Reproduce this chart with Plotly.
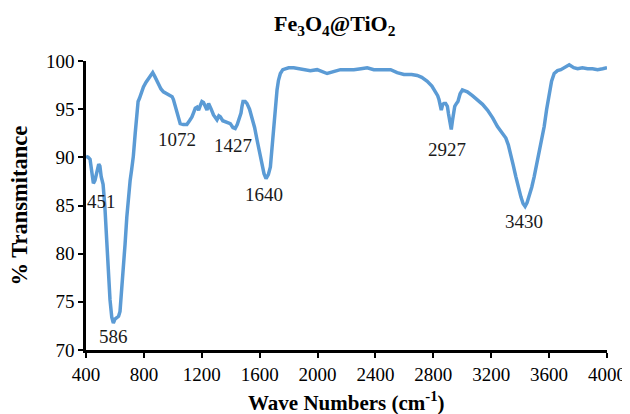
import plotly.graph_objects as go

wavenumber = [400, 415, 428, 440, 451, 462, 475, 488, 496, 505, 518, 530, 543, 555, 566, 578, 589, 600, 612, 625,
              635, 646, 658, 670, 682, 694, 705, 716, 727, 740, 751, 760, 769, 780, 797, 815, 831, 848, 861, 875,
              890, 901, 918, 935, 958, 981, 995, 1004, 1015, 1027, 1040, 1051, 1072, 1097, 1115, 1132, 1145, 1155,
              1167, 1178, 1190, 1201, 1212, 1224, 1236, 1247, 1254, 1265, 1281, 1295, 1305, 1318, 1328, 1345, 1362,
              1380, 1397, 1415, 1431, 1445, 1455, 1465, 1471, 1478, 1485, 1500, 1512, 1530, 1547, 1565, 1582, 1600,
              1616, 1630, 1644, 1660, 1674, 1685, 1697, 1708, 1720, 1730, 1743, 1760, 1778, 1800, 1835, 1870, 1905,
              1950, 1997, 2030, 2066, 2110, 2158, 2200, 2251, 2300, 2343, 2389, 2450, 2505, 2550, 2597, 2650, 2689,
              2720, 2758, 2790, 2816, 2830, 2839, 2848, 2855, 2865, 2874, 2885, 2897, 2905, 2915, 2924, 2932, 2940,
              2948, 2960, 2970, 2985, 3001, 3018, 3035, 3070, 3104, 3140, 3174, 3210, 3243, 3270, 3301, 3318, 3335,
              3352, 3370, 3388, 3405, 3420, 3434, 3448, 3462, 3480, 3497, 3514, 3531, 3548, 3566, 3583, 3600, 3617,
              3635, 3658, 3681, 3710, 3739, 3770, 3797, 3830, 3866, 3900, 3935, 3970, 4000]

transmittance = [90.1, 90.0, 89.8, 88.6, 87.3, 87.6, 88.4, 89.3, 89.1, 88.0, 87.2, 85.0, 81.4, 78.0, 75.2, 73.4, 72.8,
                 73.2, 73.4, 73.5, 74.0, 76.0, 78.0, 81.0, 83.8, 86.0, 87.6, 88.8, 90.1, 92.5, 94.2, 95.8, 96.1, 96.6,
                 97.3, 97.8, 98.2, 98.5, 98.8, 98.4, 97.9, 97.7, 97.1, 96.8, 96.6, 96.5, 96.3, 96.0, 95.4, 94.6, 93.8,
                 93.5, 93.4, 93.4, 93.8, 94.2, 94.7, 95.1, 95.2, 94.9, 95.4, 95.8, 95.7, 95.2, 94.9, 95.6, 95.4, 95.0,
                 94.4, 94.1, 93.9, 94.3, 94.2, 93.8, 93.7, 93.6, 93.5, 93.1, 93.0, 93.4, 93.9, 94.3, 94.6, 95.3, 95.8,
                 95.8, 95.6, 95.0, 94.2, 93.1, 91.8, 90.5, 89.4, 88.3, 87.8, 88.2, 89.0, 91.0, 93.5, 95.5, 97.0, 98.0,
                 98.7, 99.1, 99.2, 99.3, 99.3, 99.2, 99.1, 99.0, 99.1, 98.9, 98.7, 98.9, 99.1, 99.1, 99.1, 99.2, 99.3,
                 99.1, 99.1, 99.1, 98.8, 98.6, 98.6, 98.5, 98.3, 97.9, 97.4, 96.8, 96.4, 96.0, 95.2, 94.9, 95.5, 95.6,
                 95.6, 95.3, 94.5, 93.3, 92.9, 93.8, 94.9, 95.3, 95.6, 95.8, 96.6, 97.0, 96.9, 96.8, 96.4, 96.0, 95.5,
                 94.9, 94.1, 93.2, 92.6, 92.0, 91.3, 90.4, 89.2, 88.0, 86.8, 85.9, 85.2, 84.9, 85.3, 85.9, 86.9, 88.0,
                 89.2, 90.4, 91.8, 93.2, 95.0, 96.6, 97.9, 98.7, 99.0, 99.1, 99.3, 99.6, 99.3, 99.2, 99.3, 99.2, 99.2,
                 99.1, 99.2, 99.3]

peak_labels = ["451", "586", "1072", "1427", "1640", "2927", "3430"]
peak_label_x = [509, 587, 1028, 1413, 1628, 2897, 3428]
peak_label_y = [85.4, 71.4, 91.8, 91.2, 86.1, 90.8, 83.3]

x_ticks = [400, 800, 1200, 1600, 2000, 2400, 2800, 3200, 3600, 4000]
y_ticks = [70, 75, 80, 85, 90, 95, 100]

SERIF = "Liberation Serif, Times New Roman, serif"

fig = go.Figure()
fig.add_trace(go.Scatter(x=wavenumber, y=transmittance, mode="lines",
                         line=dict(color="#5B9BD5", width=3.5), showlegend=False,
                         hoverinfo="skip"))

for t, xx, yy in zip(peak_labels, peak_label_x, peak_label_y):
    fig.add_annotation(x=xx, y=yy, text=t, showarrow=False,
                       xanchor="center", yanchor="middle",
                       font=dict(family=SERIF, size=19, color="#1a1a1a"))

fig.add_annotation(xref="paper", yref="paper", x=0.478, y=1, yshift=36,
                   xanchor="center", yanchor="middle",
                   text="<b>Fe<sub>3</sub>O<sub>4</sub>@TiO<sub>2</sub></b>", showarrow=False,
                   font=dict(family=SERIF, size=22, color="black"))
fig.add_annotation(xref="paper", yref="paper", x=0.5, y=0, yshift=-51,
                   xanchor="center", yanchor="middle",
                   text="<b>Wave Numbers (cm<sup>-1</sup>)</b>", showarrow=False,
                   font=dict(family=SERIF, size=21, color="black"))
fig.add_annotation(xref="paper", yref="paper", x=0, y=0.5, xshift=-67, textangle=-90,
                   xanchor="center", yanchor="middle",
                   text="<b>% Transmitance</b>", showarrow=False,
                   font=dict(family=SERIF, size=22.5, color="black"))

fig.update_layout(
    width=622, height=406,
    margin=dict(l=78, r=23, t=53, b=64),
    paper_bgcolor="white", plot_bgcolor="white",
    font=dict(family=SERIF, color="black"),
)
fig.update_xaxes(range=[400, 4000], tickvals=x_ticks, ticktext=[str(v) for v in x_ticks],
                 automargin=False, ticklabeloverflow="allow",
                 showgrid=False, zeroline=False, showline=True, linecolor="black", linewidth=2.5,
                 ticks="outside", ticklen=5, tickwidth=2, tickcolor="black",
                 tickfont=dict(family=SERIF, size=19, color="black"))
fig.update_yaxes(range=[70, 100], tickvals=y_ticks, ticktext=[str(v) for v in y_ticks],
                 automargin=False, ticklabeloverflow="allow",
                 showgrid=False, zeroline=False, showline=True, linecolor="black", linewidth=2.5,
                 ticks="outside", ticklen=5, tickwidth=2, tickcolor="black",
                 tickfont=dict(family=SERIF, size=19, color="black"))

fig.write_html("out.html")
